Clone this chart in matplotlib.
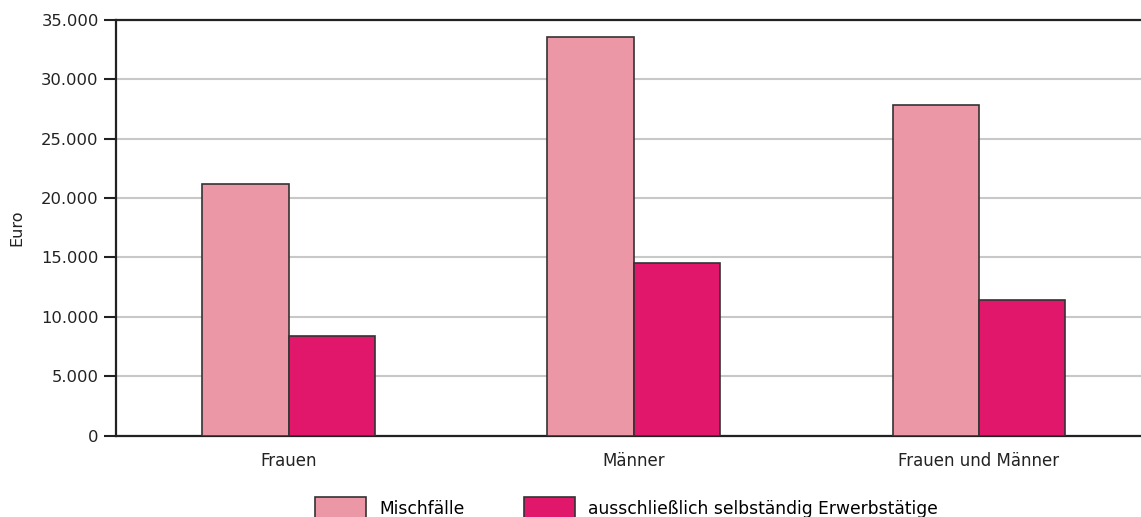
import matplotlib
matplotlib.use("Agg")
import matplotlib.pyplot as plt
from matplotlib.ticker import FuncFormatter, MultipleLocator
from matplotlib.patches import Patch
import numpy as np

categories = ["Frauen", "Männer", "Frauen und Männer"]
series_names = ["Mischfälle", "ausschließlich selbständig Erwerbstätige"]
mischfaelle = [21200, 33600, 27800]
selbstaendig = [8400, 14500, 11400]
colors = ["#EC97A5", "#E0176A"]

plt.rcParams['font.family'] = ['DejaVu Sans']
fig = plt.figure(figsize=(11.41, 5.17), dpi=100)
ax = fig.add_axes([116/1141, 1-435.5/517, (1151.5-116)/1141, (435.5-20)/517])

x = np.arange(len(categories))
w = 0.25
ax.bar(x - w/2, mischfaelle, w, color=colors[0], edgecolor="#333333", linewidth=1.2, zorder=3)
ax.bar(x + w/2, selbstaendig, w, color=colors[1], edgecolor="#333333", linewidth=1.2, zorder=3)

ax.set_xlim(-0.5, 2.5)
ax.set_ylim(0, 35000)
ax.yaxis.set_major_locator(MultipleLocator(5000))
ax.yaxis.set_major_formatter(FuncFormatter(lambda v, p: f"{v:,.0f}".replace(",", ".")))
ax.set_xticks(x)
ax.set_xticklabels(categories, fontsize=12, color="#222222")
ax.tick_params(axis="x", length=0, pad=12)
ax.tick_params(axis="y", length=8.5, width=1.5, labelsize=11.8, labelcolor="#222222", color="#222222", pad=4)
ax.grid(axis="y", color="#c8c8c8", linewidth=1.5, zorder=0)
ax.set_axisbelow(True)
for s in ["left", "bottom", "top"]:
    ax.spines[s].set_linewidth(1.6)
    ax.spines[s].set_color("#222222")
ax.spines["right"].set_visible(False)
ax.set_ylabel("Euro", fontsize=11.5, color="#222222", labelpad=12)

handles = [Patch(facecolor=colors[i], edgecolor="#333333", linewidth=1.2, label=series_names[i]) for i in range(2)]
fig.legend(handles=handles, loc="upper left", bbox_to_anchor=(308/1141, 1-490/517), ncol=2, frameon=False,
           fontsize=12.3, handlelength=3.0, handleheight=1.8, handletextpad=0.75, columnspacing=3.5, borderaxespad=0)

fig.savefig("out.png", dpi=100)
